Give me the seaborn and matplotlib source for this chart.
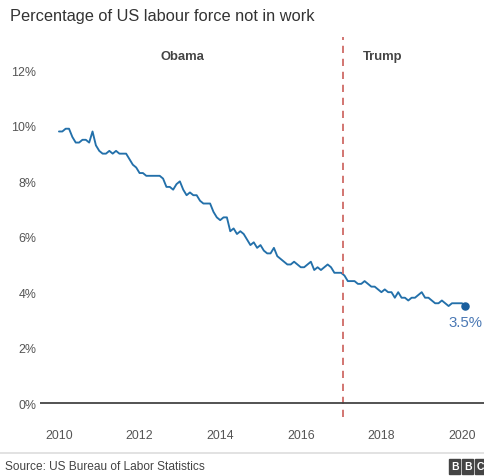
import numpy as np
import pandas as pd
import matplotlib
matplotlib.use("Agg")
import matplotlib.pyplot as plt
from matplotlib.patches import Rectangle
from matplotlib.lines import Line2D
import seaborn as sns

# Monthly unemployment rate (%), Jan 2010 - Feb 2020
rate_2010 = [9.8, 9.8, 9.9, 9.9, 9.6, 9.4, 9.4, 9.5, 9.5, 9.4, 9.8, 9.3]
rate_2011 = [9.1, 9.0, 9.0, 9.1, 9.0, 9.1, 9.0, 9.0, 9.0, 8.8, 8.6, 8.5]
rate_2012 = [8.3, 8.3, 8.2, 8.2, 8.2, 8.2, 8.2, 8.1, 7.8, 7.8, 7.7, 7.9]
rate_2013 = [8.0, 7.7, 7.5, 7.6, 7.5, 7.5, 7.3, 7.2, 7.2, 7.2, 6.9, 6.7]
rate_2014 = [6.6, 6.7, 6.7, 6.2, 6.3, 6.1, 6.2, 6.1, 5.9, 5.7, 5.8, 5.6]
rate_2015 = [5.7, 5.5, 5.4, 5.4, 5.6, 5.3, 5.2, 5.1, 5.0, 5.0, 5.1, 5.0]
rate_2016 = [4.9, 4.9, 5.0, 5.1, 4.8, 4.9, 4.8, 4.9, 5.0, 4.9, 4.7, 4.7]
rate_2017 = [4.7, 4.6, 4.4, 4.4, 4.4, 4.3, 4.3, 4.4, 4.3, 4.2, 4.2, 4.1]
rate_2018 = [4.0, 4.1, 4.0, 4.0, 3.8, 4.0, 3.8, 3.8, 3.7, 3.8, 3.8, 3.9]
rate_2019 = [4.0, 3.8, 3.8, 3.7, 3.6, 3.6, 3.7, 3.6, 3.5, 3.6, 3.6, 3.6]
rate_2020 = [3.6, 3.5]

start_year = 2010
inauguration = 2017.05
y_ticks = [0, 2, 4, 6, 8, 10, 12]
x_ticks = [2010, 2012, 2014, 2016, 2018, 2020]
end_label = "3.5%"

rates = (rate_2010 + rate_2011 + rate_2012 + rate_2013 + rate_2014 + rate_2015
         + rate_2016 + rate_2017 + rate_2018 + rate_2019 + rate_2020)
dates = [start_year + i / 12 for i in range(len(rates))]
df = pd.DataFrame({"date": dates, "rate": rates})

sns.set_style("white")
plt.rcParams["font.family"] = ["Liberation Sans", "DejaVu Sans"]

W, H = 485, 477
fig = plt.figure(figsize=(W / 100, H / 100), dpi=100)
ax = fig.add_axes([40 / W, (H - 418) / H, (W - 40) / W, (418 - 38) / H])

line_col = "#2370aa"
sns.lineplot(data=df, x="date", y="rate", ax=ax, color=line_col, lw=1.35)
ax.scatter([df["date"].iloc[-1]], [df["rate"].iloc[-1]], s=26, color="#1a5f9e", zorder=5)

ax.set_xlim(2009.53, 2020.57)
ax.set_ylim(-0.505, 13.21)
for s in ax.spines.values():
    s.set_visible(False)

ax.axhline(0, color="#444444", lw=1.3, zorder=3)
ax.axvline(inauguration, color="#cf6a66", lw=1.3, ls=(0, (4, 3.2)), zorder=2)

ax.set_yticks(y_ticks)
ax.set_yticklabels([f"{v}%" for v in y_ticks])
ax.set_xticks(x_ticks)
ax.set_xticklabels([str(v) for v in x_ticks])
ax.tick_params(axis="both", length=0, labelsize=8.9, labelcolor="#555555")
ax.tick_params(axis="y", pad=2.5)
ax.tick_params(axis="x", pad=9)
ax.set_xlabel("")
ax.set_ylabel("")
ax.grid(False)

ax.text(2013.07, 12.53, "Obama", ha="center", va="center", fontsize=9.4,
        fontweight="bold", color="#444444")
ax.text(2017.54, 12.53, "Trump", ha="left", va="center", fontsize=9.4,
        fontweight="bold", color="#444444")
ax.text(df["date"].iloc[-1], 2.92, end_label, ha="center", va="center",
        fontsize=10.8, color="#4a78b4")

fig.text(10 / W, 1 - 16 / H, "Percentage of US labour force not in work",
         ha="left", va="center", fontsize=11.8, color="#333333")

fig.add_artist(Line2D([0, 1], [1 - 454 / H, 1 - 454 / H], color="#dddddd", lw=1.2))
fig.text(5 / W, 1 - 467 / H, "Source: US Bureau of Labor Statistics",
         ha="left", va="center", fontsize=8.6, color="#444444")

# BBC blocks
for i, ch in enumerate("BBC"):
    x0 = 449 + i * 13
    fig.add_artist(Rectangle((x0 / W, 1 - 475 / H), 11.5 / W, 15 / H,
                             transform=fig.transFigure, color="#444444"))
    fig.text((x0 + 5.75) / W, 1 - 467.5 / H, ch, ha="center", va="center",
             fontsize=7.5, fontweight="bold", color="white")

fig.savefig("out.png", dpi=100)
